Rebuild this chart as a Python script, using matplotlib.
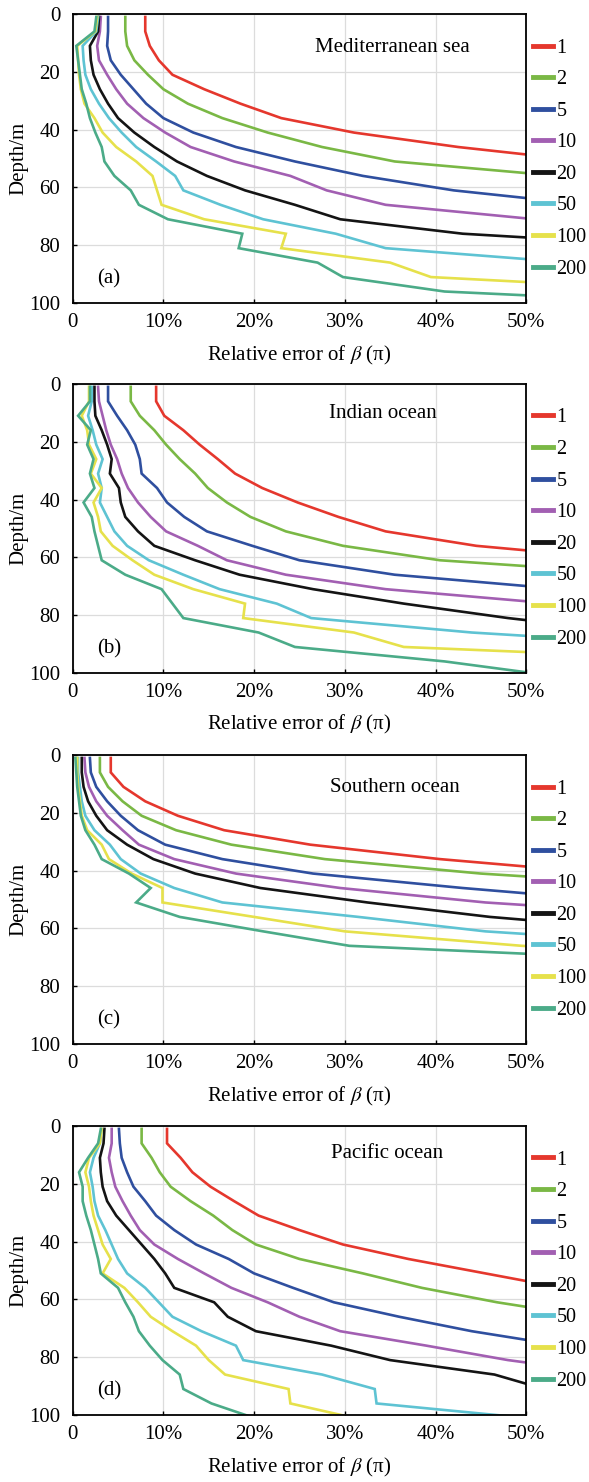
import matplotlib.pyplot as plt
import numpy as np
from matplotlib.lines import Line2D

plt.rcParams['font.family'] = ['Liberation Serif', 'DejaVu Serif']
plt.rcParams['mathtext.fontset'] = 'stix'

# depth of each profile point (m)
depth_m = np.arange(1, 102, 5)

n_labels = ['1', '2', '5', '10', '20', '50', '100', '200']
colors = ['#e5372d', '#7ab845', '#2f4f9f', '#a25fb2', '#141414',
          '#5ec3d3', '#e6e14b', '#4bab88']

x_ticks = [0, 10, 20, 30, 40, 50]
x_ticklabels = ['0', '10%', '20%', '30%', '40%', '50%']
y_ticks = [0, 20, 40, 60, 80, 100]

# relative error (%) per profile, one row per curve (1, 2, 5, ... 200)
mediterranean = [
    [8.0, 8.0, 8.5, 9.5, 11.0, 14.5, 18.5, 23.0, 31.0, 42.5, 57.0],
    [5.8, 5.8, 6.0, 6.8, 8.3, 10.0, 12.7, 16.5, 21.5, 27.5, 35.5, 53.5],
    [3.9, 3.9, 3.8, 4.2, 5.3, 6.7, 8.1, 10.0, 13.3, 18.0, 24.5, 32.0, 42.0, 57.0],
    [3.1, 3.0, 2.7, 2.9, 3.8, 4.8, 6.0, 7.8, 10.2, 13.0, 17.8, 24.0, 28.0, 34.5, 51.0],
    [2.9, 2.8, 1.9, 2.0, 2.3, 3.0, 3.9, 5.0, 6.8, 9.0, 11.5, 14.8, 19.0, 24.5, 29.5,
     43.0, 70.0],
    [2.8, 2.6, 1.1, 1.2, 1.4, 2.0, 2.9, 4.0, 5.4, 7.0, 9.2, 11.3, 12.2, 16.3, 21.0,
     29.0, 34.5, 55.0],
    [2.7, 2.5, 0.5, 0.6, 0.7, 0.9, 1.3, 2.4, 3.3, 4.8, 7.0, 8.8, 9.3, 9.8, 14.5,
     23.5, 23.0, 35.0, 39.5, 70.0],
    [2.6, 2.4, 0.4, 0.6, 0.8, 1.0, 1.5, 1.9, 2.5, 3.2, 3.5, 4.6, 6.4, 7.3, 10.5,
     18.7, 18.3, 27.0, 29.8, 41.0, 75.0],
]

indian = [
    [9.2, 9.2, 10.1, 12.2, 14.0, 16.0, 17.9, 20.9, 24.8, 29.3, 34.5, 44.5, 62.0],
    [6.4, 6.4, 7.4, 9.0, 10.3, 11.8, 13.5, 14.9, 17.0, 19.6, 23.5, 29.8, 40.5, 64.0],
    [3.9, 3.9, 4.9, 6.0, 6.9, 7.4, 7.6, 9.3, 10.4, 12.3, 14.8, 19.8, 25.0, 35.5, 54.0],
    [2.8, 2.9, 3.3, 3.7, 4.2, 4.9, 5.4, 6.1, 7.2, 8.6, 10.3, 13.8, 17.0, 23.5, 34.5,
     53.0],
    [2.4, 2.4, 2.5, 3.2, 3.8, 4.3, 4.1, 5.1, 5.3, 5.8, 7.2, 9.0, 13.5, 18.4, 26.5,
     36.5, 48.0, 62.0],
    [2.1, 2.1, 1.7, 2.2, 2.6, 3.3, 2.8, 3.2, 3.0, 3.8, 4.6, 6.0, 8.4, 12.2, 16.2,
     22.5, 26.3, 44.0, 70.0],
    [1.8, 1.8, 1.0, 1.6, 1.8, 2.6, 2.0, 3.2, 2.3, 2.8, 3.1, 4.4, 6.6, 9.0, 13.3,
     19.0, 18.8, 31.0, 36.5, 75.0],
    [1.9, 1.9, 0.6, 2.0, 1.6, 2.3, 1.9, 2.4, 1.2, 2.1, 2.4, 2.8, 3.2, 5.8, 9.8,
     11.0, 12.2, 20.5, 24.5, 41.0, 53.0],
]

southern = [
    [4.2, 4.2, 5.6, 8.0, 11.6, 16.7, 26.2, 40.5, 59.0],
    [3.0, 3.0, 3.9, 5.5, 7.6, 11.4, 17.5, 27.8, 45.0, 70.0],
    [1.9, 2.0, 2.6, 3.8, 5.3, 7.2, 10.2, 16.5, 26.5, 43.0, 62.0],
    [1.3, 1.4, 1.8, 2.6, 3.8, 5.5, 7.3, 11.2, 18.0, 29.5, 45.5, 70.0],
    [1.0, 1.0, 1.2, 1.7, 2.6, 3.8, 6.0, 8.9, 13.5, 20.7, 32.5, 46.0, 65.0],
    [0.6, 0.6, 0.8, 1.0, 1.4, 2.4, 4.1, 5.3, 7.5, 11.2, 16.5, 31.5, 45.5, 70.0],
    [0.5, 0.5, 0.6, 0.8, 1.0, 1.6, 3.2, 4.0, 6.5, 9.9, 9.9, 20.0, 30.0, 49.5, 80.0],
    [0.3, 0.4, 0.5, 0.7, 0.9, 1.4, 2.4, 3.2, 6.2, 8.6, 7.0, 11.8, 21.0, 30.5, 66.0],
]

pacific = [
    [10.4, 10.4, 11.9, 13.2, 15.2, 17.8, 20.5, 25.0, 29.8, 37.0, 45.5, 54.0],
    [7.6, 7.6, 8.7, 9.6, 10.8, 13.0, 15.5, 17.6, 20.2, 25.0, 32.0, 38.5, 46.8, 57.0],
    [5.1, 5.2, 5.4, 6.0, 6.7, 8.0, 9.2, 11.2, 13.6, 17.2, 20.0, 24.3, 28.8, 36.0,
     44.0, 54.0],
    [4.3, 4.3, 4.0, 4.3, 4.7, 5.5, 6.4, 7.4, 9.0, 11.6, 14.5, 17.5, 21.5, 25.0, 29.5,
     39.0, 48.0, 60.0],
    [3.5, 3.4, 3.0, 3.1, 3.3, 3.8, 4.8, 6.2, 7.6, 9.0, 10.2, 11.2, 15.6, 17.1, 20.2,
     28.5, 35.0, 46.5, 52.0],
    [3.2, 3.0, 2.3, 1.9, 2.2, 2.4, 2.8, 3.6, 4.3, 5.0, 6.0, 8.0, 9.5, 11.0, 14.2,
     18.0, 18.8, 27.5, 33.3, 33.5, 50.0],
    [3.2, 3.0, 1.8, 1.4, 1.8, 2.0, 2.3, 2.8, 3.3, 4.2, 3.3, 5.7, 7.2, 8.6, 11.0,
     13.6, 15.0, 16.8, 23.8, 24.0, 31.0],
    [3.1, 2.8, 1.7, 0.7, 1.1, 1.1, 1.5, 2.0, 2.4, 2.8, 3.1, 5.0, 5.8, 6.7, 7.3,
     8.5, 9.9, 11.8, 12.2, 15.3, 20.0],
]

panels = [
    (mediterranean, 'Mediterranean sea', '(a)', 0.7045, 0.886),
    (indian, 'Indian ocean', '(b)', 0.685, 0.897),
    (southern, 'Southern ocean', '(c)', 0.710, 0.887),
    (pacific, 'Pacific ocean', '(d)', 0.693, 0.904),
]
bottoms = [0.7955, 0.5459, 0.2955, 0.0452]

fig = plt.figure(figsize=(5.89, 14.82), dpi=100)

for (series, name, tag, tx, ty), b in zip(panels, bottoms):
    ax = fig.add_axes([0.1234, b, 0.770, 0.195])
    for vals, c in zip(series, colors):
        ax.plot(vals, depth_m[:len(vals)], color=c, lw=1.9, solid_joinstyle='miter')

    ax.set_xlim(0, 50)
    ax.set_ylim(100, 0)
    ax.set_xticks(x_ticks)
    ax.set_xticklabels(x_ticklabels)
    ax.set_yticks(y_ticks)
    ax.grid(True, color='#dcdcdc', lw=0.9)
    ax.set_axisbelow(True)
    ax.tick_params(direction='in', length=3, labelsize=15, width=1)
    ax.tick_params(axis='x', pad=7)
    ax.tick_params(axis='y', pad=9)
    for sp in ax.spines.values():
        sp.set_linewidth(1.3)

    ax.set_xlabel(r'Relative error of $\beta$ (π)', fontsize=15)
    ax.xaxis.set_label_coords(0.5, -0.14)
    ax.set_ylabel('Depth/m', fontsize=15)
    ax.yaxis.set_label_coords(-0.097, 0.5)

    ax.text(tx, ty, name, transform=ax.transAxes, ha='center', va='center', fontsize=15)
    ax.text(0.08, 0.083, tag, transform=ax.transAxes, ha='center', va='center', fontsize=15)

    handles = [Line2D([], [], color=c, lw=3.5) for c in colors]
    ax.legend(handles, n_labels, loc='center left', bbox_to_anchor=(1.0, 0.5),
              frameon=False, fontsize=14.5, handlelength=1.0, handletextpad=0.15,
              labelspacing=0.62, borderaxespad=0.35, borderpad=0.0)

fig.savefig('out.png', dpi=100)
